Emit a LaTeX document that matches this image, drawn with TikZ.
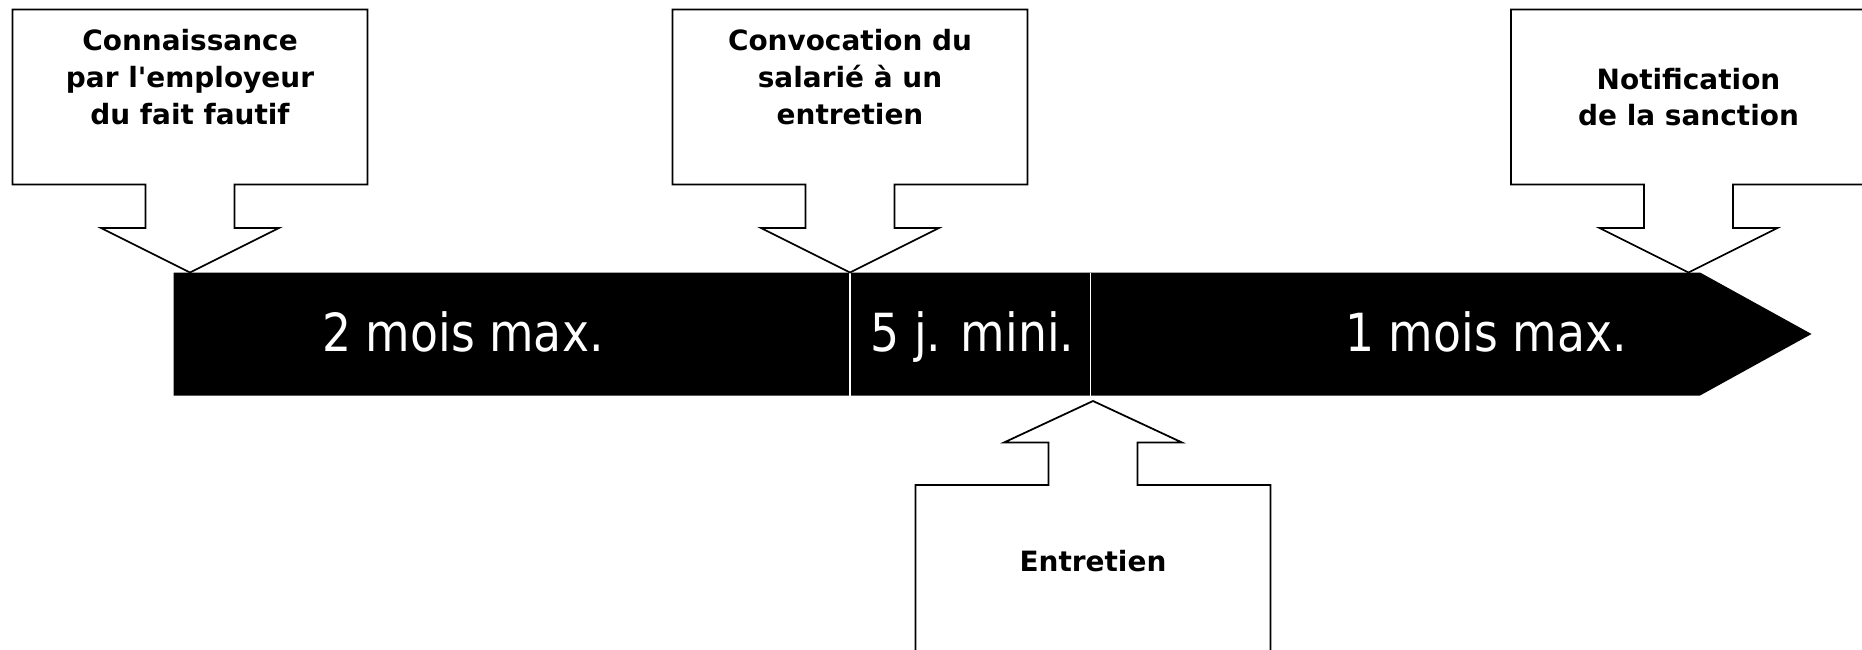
\documentclass[tikz,border=0pt]{standalone}
\usepackage{fontspec}
\setmainfont{DejaVu Sans}
\newfontfamily\barfont{DejaVu Sans}[FakeStretch=0.87]

\begin{document}
\begin{tikzpicture}[x=0.02cm, y=-0.02cm,
    callout/.style={draw=black, fill=white, line width=1pt},
    calltext/.style={font=\fontsize{15.9}{20.9}\selectfont\bfseries, align=center, anchor=south, inner sep=0pt},
    delai/.style={font=\barfont\fontsize{29.9}{36}\selectfont, text=white, anchor=base, inner sep=0pt}]
      \useasboundingbox (0,0) rectangle (1862,649);
      % the time line
      \fill [black] (173.5,272.5) -- (1700,272.5) -- (1811.5,334) -- (1700,395.5) -- (173.5,395.5) -- cycle;
      \draw [white,line width=1pt] (850,272.5) -- (850,395.5);
      \draw [white,line width=1pt] (1090.5,272.5) -- (1090.5,395.5);
      \node [delai] (deux) at (463,351.5) {2 mois max.};
      \node [delai] (cinq) at (972.5,351.5) {5 j. mini.};
      \node [delai] (un) at (1486,351.5) {1 mois max.};
      % callouts above
      \draw [callout] (12.5,9.5) -- (367.5,9.5) -- (367.5,184.5) -- (234.5,184.5) -- (234.5,228) -- (279,228) -- (190,272.5) -- (101,228) -- (145.5,228) -- (145.5,184.5) -- (12.5,184.5) -- cycle;
      \draw [callout] (672.5,9.5) -- (1027.5,9.5) -- (1027.5,184.5) -- (894.5,184.5) -- (894.5,228) -- (939,228) -- (850,272.5) -- (761,228) -- (805.5,228) -- (805.5,184.5) -- (672.5,184.5) -- cycle;
      \draw [callout] (1511,9.5) -- (1866,9.5) -- (1866,184.5) -- (1733,184.5) -- (1733,228) -- (1777.5,228) -- (1688.5,272.5) -- (1599.5,228) -- (1644,228) -- (1644,184.5) -- (1511,184.5) -- cycle;
      % callout below
      \draw [callout] (915.5,660) -- (915.5,485) -- (1048.5,485) -- (1048.5,442.5) -- (1004,442.5) -- (1093,401) -- (1182,442.5) -- (1137.5,442.5) -- (1137.5,485) -- (1270.5,485) -- (1270.5,660) -- cycle;
      \node [calltext] (fait) at (190,125) {Connaissance\\par l\textquotesingle employeur\\du fait fautif};
      \node [calltext] (convoc) at (850,125) {Convocation du\\salarié à un\\entretien};
      \node [calltext] (sanction) at (1688.5,126.5) {Notification\\de la sanction};
      \node [calltext] (entretien) at (1093,572.5) {Entretien};
    \end{tikzpicture}
\end{document}
